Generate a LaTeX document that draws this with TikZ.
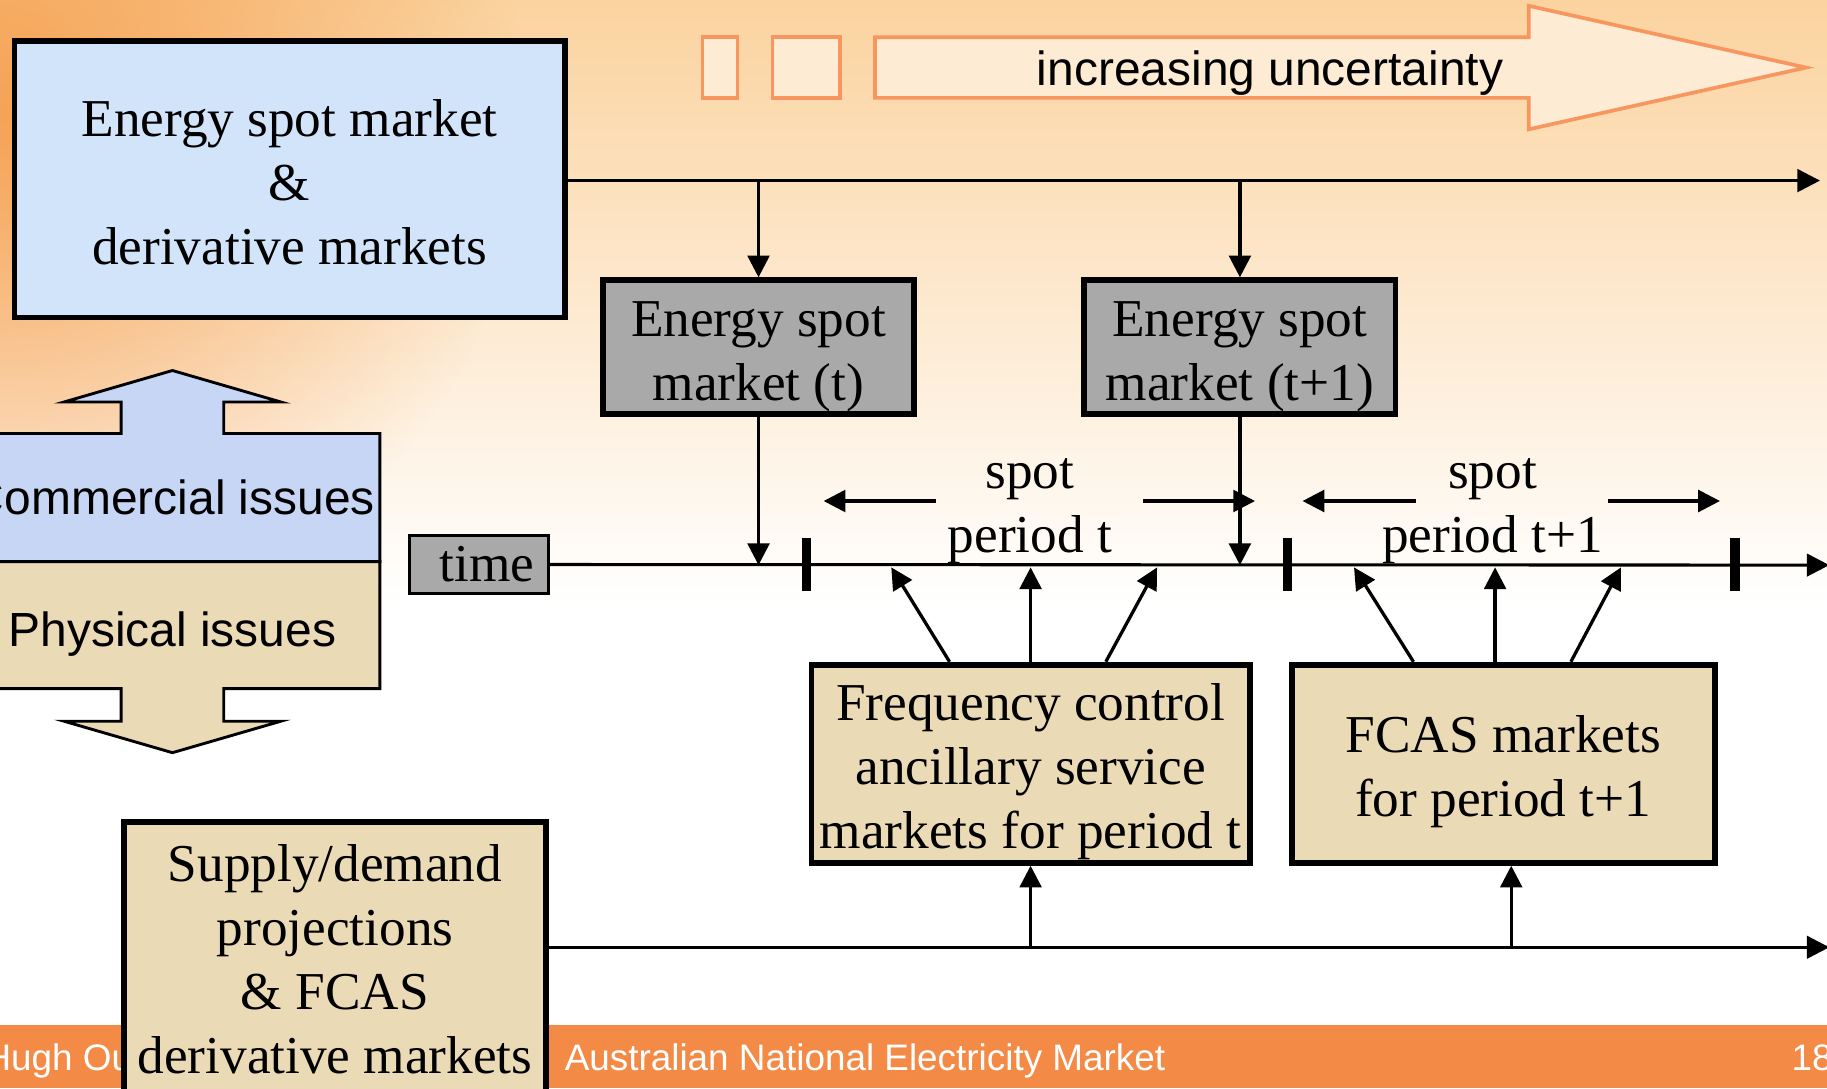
\documentclass[tikz,border=0pt]{standalone}
\usepackage{fontspec}
\setmainfont{Liberation Serif}
\setsansfont{Liberation Sans}
\usetikzlibrary{positioning, arrows.meta, fadings}
\usepackage{xcolor}

\definecolor{bluepaper}{HTML}{D2E4FA}
\definecolor{lilacpaper}{HTML}{C7D6F4}
\definecolor{tanpaper}{HTML}{EADAB5}
\definecolor{spotgrey}{HTML}{A9A9A9}
\definecolor{peach}{HTML}{FBD39F}
\definecolor{glowcol}{HTML}{F4953F}
\definecolor{barorange}{HTML}{F38B47}
\definecolor{uncline}{HTML}{F8965F}
\definecolor{uncfill}{HTML}{FDEBD3}

\tikzfading[name=glow, inner color=transparent!0, outer color=transparent!100]
% taller first line, pushes box text down
\newcommand{\lift}[1][13pt]{\rule{0pt}{#1}}

\begin{document}
\begin{tikzpicture}[x=0.01cm, y=-0.01cm,
    market/.style={draw, line width=1.4pt, align=center, inner sep=0pt,
        font=\fontsize{13}{15.6}\selectfont},
    spotbox/.style={market, fill=spotgrey, minimum width=2.67cm, minimum height=1.15cm},
    fcasbox/.style={market, fill=tanpaper, minimum height=1.70cm},
    issue/.style={draw, line width=0.7pt},
    link/.style={line width=0.8pt, -{Triangle[length=5.3pt, width=5.3pt]}},
    axis/.style={line width=0.75pt, -{Triangle[length=5.5pt, width=5.5pt]}},
    tick/.style={line width=2.3pt},
    sans/.style={font=\sffamily\fontsize{11.7}{14}\selectfont},
    serif/.style={font=\fontsize{13}{15.6}\selectfont, align=center},
    footer/.style={anchor=base west, inner sep=0pt, text=white, font=\sffamily\fontsize{9}{11}\selectfont}]
    \clip (0,0) rectangle (1568,934);

    % background and footer bar
    \fill[white] (0,0) rectangle (1568,934);
    \shade[top color=peach, bottom color=white] (0,0) rectangle (1568,520);
    \fill[glowcol, path fading=glow, opacity=0.8] (-450,-350) rectangle (450,550);
    \fill[barorange] (0,880) rectangle (1568,934);
    \node[footer] (author) at (-14,919) {Hugh Ou};
    \node[footer] (talk) at (484,919) {Australian National Electricity Market};
    \node[footer] (page) at (1537,919) {18};

    % increasing uncertainty
    \draw[uncline, fill=uncfill, line width=0.9pt] (603,32) rectangle (633,84);
    \draw[uncline, fill=uncfill, line width=0.9pt] (663,32) rectangle (721,84);
    \draw[uncline, fill=uncfill, line width=0.9pt] (751,32) -- (1312,32) -- (1312,5)
        -- (1550,58) -- (1312,111) -- (1312,84) -- (751,84) -- cycle;
    \node[sans] (uncert) at (1090,63) {increasing uncertainty};

    % commercial / physical
    \draw[issue, fill=lilacpaper] (-40,482) -- (-40,372) -- (104,372) -- (104,345) -- (55,345)
        -- (148,318) -- (241,345) -- (192,345) -- (192,372) -- (326,372) -- (326,482) -- cycle;
    \draw[issue, fill=tanpaper] (-40,482) -- (326,482) -- (326,591) -- (192,591) -- (192,619)
        -- (241,619) -- (148,646) -- (55,619) -- (104,619) -- (104,591) -- (-40,591) -- cycle;
    \node[sans] (comm) at (148,427) {Commercial issues};
    \node[sans] (phys) at (148,544) {Physical issues};

    % markets
    \node[market, fill=bluepaper, minimum width=4.72cm, minimum height=2.37cm] (deriv)
        at (248.5,154) {\lift[10.5pt]Energy spot market\\\&\\derivative markets};
    \node[spotbox] (spotT) at (651,298) {\lift Energy spot\\market (t)};
    \node[spotbox] (spotU) [right=1.41cm of spotT] {\lift Energy spot\\market (t+1)};
    \node[fcasbox, minimum width=3.76cm] (fcasT) at (884.5,655.5)
        {\lift Frequency control\\ancillary service\\markets for period t};
    \node[fcasbox, minimum width=3.63cm] (fcasU) [right=0.31cm of fcasT]
        {\lift FCAS markets\\for period t+1};
    \node[draw, fill=spotgrey, line width=0.8pt, minimum width=1.19cm, minimum height=0.50cm,
        inner sep=0pt, font=\fontsize{13}{15.6}\selectfont,
        execute at begin node={\hspace*{4pt}}] (clock) at (411,484.5) {time};

    % time lines
    \coordinate (topEnd) at (1562,155);
    \coordinate (timeEnd) at (1570,485);
    \coordinate (botEnd) at (1570,813);
    \coordinate (jU) at (1297,813);
    \draw[axis] (deriv.east |- topEnd) -- (topEnd);
    \draw[axis] (clock.east) -- (timeEnd);
    \foreach \x in {692,1105,1489}
        \draw[tick] (\x,462) -- (\x,507);

    \draw[link] (spotT.north |- topEnd) -- (spotT.north);
    \draw[link] (spotU.north |- topEnd) -- (spotU.north);
    \draw[link] (spotT.south) -- (spotT.south |- timeEnd);
    \draw[link] (spotU.south) -- (spotU.south |- timeEnd);

    % spot periods
    \node[serif] (perT) at (884,439) {spot\\period t};
    \node[serif] (perU) at (1281,439) {spot\\period t+1};
    \foreach \lbl/\a/\b/\c/\d in {perT/-0.81/-1.77/0.97/1.93, perU/-0.66/-1.63/0.99/1.95} {
        \draw[link] ([xshift=\a cm, yshift=0.09cm]\lbl.center) -- ([xshift=\b cm, yshift=0.09cm]\lbl.center);
        \draw[link] ([xshift=\c cm, yshift=0.09cm]\lbl.center) -- ([xshift=\d cm, yshift=0.09cm]\lbl.center);
    }
    \foreach \s/\e in {-0.695/-1.195, 0/0, 0.645/1.085}
        \draw[link] ([xshift=\s cm]fcasT.north) -- ([xshift=\e cm, yshift=0.81cm]fcasT.north);
    \foreach \s/\e in {-0.77/-1.28, -0.07/-0.07, 0.58/1.01}
        \draw[link] ([xshift=\s cm]fcasU.north) -- ([xshift=\e cm, yshift=0.81cm]fcasU.north);

    % projections
    \node[market, fill=tanpaper, minimum width=3.62cm, minimum height=2.35cm] (supply) at (287.5,823)
        {Supply/demand\\projections\\\& FCAS\\derivative markets};
    \draw[axis] (supply.east |- botEnd) -- (botEnd);
    \draw[link] (fcasT.south |- botEnd) -- (fcasT.south);
    \draw[link] (jU) -- (jU |- fcasU.south);
\end{tikzpicture}
\end{document}
